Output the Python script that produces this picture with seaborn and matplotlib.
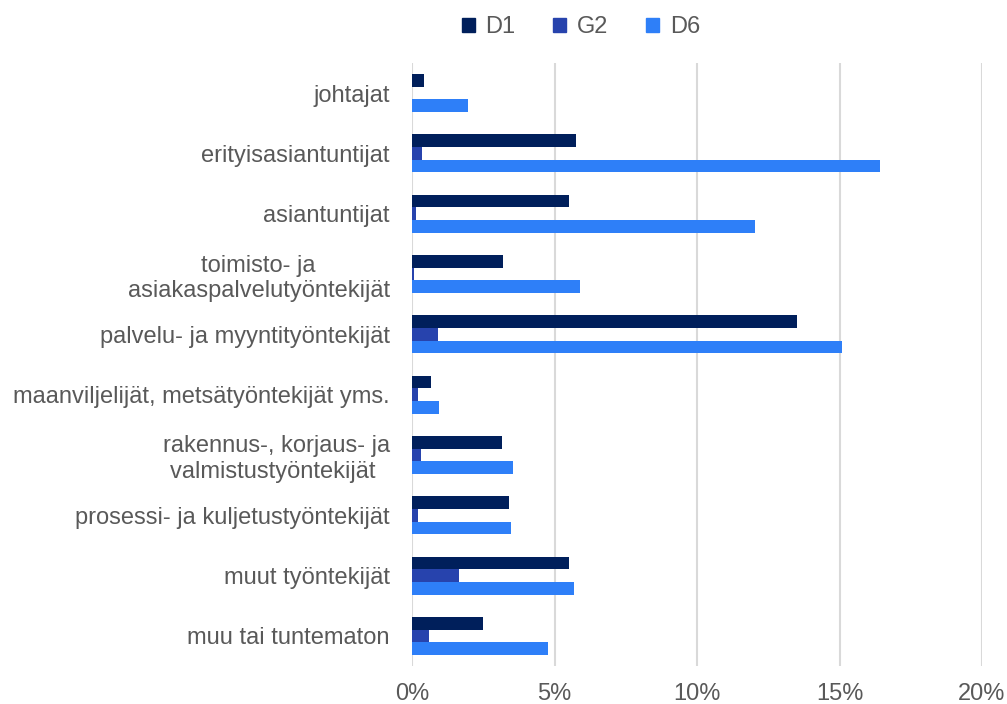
import matplotlib.pyplot as plt
import seaborn as sns
import pandas as pd
from matplotlib.ticker import PercentFormatter

# Occupational groups (share in %)
categories = [
    "johtajat",
    "erityisasiantuntijat",
    "asiantuntijat",
    "toimisto- ja\nasiakaspalvelutyöntekijät",
    "palvelu- ja myyntityöntekijät",
    "maanviljelijät, metsätyöntekijät yms.",
    "rakennus-, korjaus- ja\nvalmistustyöntekijät ",
    "prosessi- ja kuljetustyöntekijät",
    "muut työntekijät",
    "muu tai tuntematon",
]
series = ["D1", "G2", "D6"]
d1 = [0.43, 5.74, 5.5, 3.2, 13.5, 0.67, 3.17, 3.42, 5.5, 2.5]
g2 = [0.0, 0.34, 0.15, 0.08, 0.92, 0.2, 0.33, 0.22, 1.66, 0.6]
d6 = [1.95, 16.42, 12.05, 5.88, 15.08, 0.95, 3.55, 3.46, 5.7, 4.77]

colors = ["#001f5b", "#2743ad", "#2e7ff8"]

df = pd.DataFrame({"kategoria": categories * 3,
                   "sarja": [s for s in series for _ in categories],
                   "osuus": d1 + g2 + d6})

sns.set_style("white")
plt.rcParams["font.family"] = ["Liberation Sans", "DejaVu Sans"]
text_col = "#595959"
fs = 17

fig = plt.figure(figsize=(10.07, 7.04), dpi=100)
ax = fig.add_axes([412 / 1007, 1 - 666 / 704, 570 / 1007, 603 / 704])

sns.barplot(data=df, y="kategoria", x="osuus", hue="sarja", orient="h",
            palette=colors, width=0.63, gap=0, ax=ax, legend=True,
            saturation=1, linewidth=0)

ax.set_xlim(0, 20)
ax.set_ylim(len(categories) - 0.5, -0.5)
ax.set_xticks([0, 5, 10, 15, 20])
ax.xaxis.set_major_formatter(PercentFormatter(decimals=0))
ax.set_xlabel("")
ax.set_ylabel("")
ax.grid(axis="x", color="#d9d9d9", linewidth=1.5)
ax.set_axisbelow(True)
for s in ax.spines.values():
    s.set_visible(False)
ax.tick_params(axis="x", length=0, pad=12, labelsize=fs, labelcolor=text_col)
ax.tick_params(axis="y", length=0, pad=16, labelsize=fs, labelcolor=text_col)
for lbl in ax.get_yticklabels():
    lbl.set_multialignment("center")

ax.legend_.remove()
handles = [plt.Rectangle((0, 0), 1, 1, color=c) for c in colors]
leg = fig.legend(handles, series, loc="center", bbox_to_anchor=(581 / 1007, 1 - 27 / 704),
                 ncol=3, frameon=False, fontsize=fs, handlelength=0.55, handleheight=0.55,
                 handletextpad=0.45, columnspacing=1.6)
for t in leg.get_texts():
    t.set_color(text_col)

fig.savefig("out.png", dpi=100)
